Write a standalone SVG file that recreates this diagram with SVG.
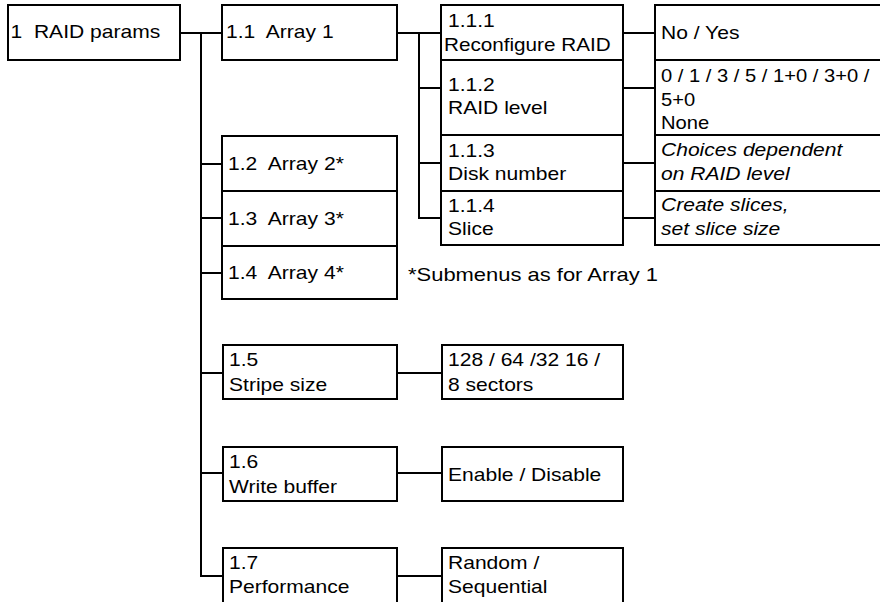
<svg xmlns="http://www.w3.org/2000/svg" width="880" height="602" viewBox="0 0 880 602">
<style>
  rect.box { fill: #ffffff; stroke: #000000; stroke-width: 2; }
  .conn line { stroke: #000000; stroke-width: 2; }
  text { font-family: "Liberation Sans", Arial, sans-serif; font-size: 18px; fill: #000000; white-space: pre; }
  text.it { font-style: italic; }
</style>
<rect x="0" y="0" width="880" height="602" fill="#ffffff"/>

<g id="connectors" class="conn">
  <line x1="180" y1="33" x2="222" y2="33"/>
  <line x1="201" y1="33" x2="201" y2="577"/>
  <line x1="201" y1="164" x2="222" y2="164"/>
  <line x1="201" y1="218" x2="222" y2="218"/>
  <line x1="201" y1="273" x2="222" y2="273"/>
  <line x1="201" y1="373" x2="223" y2="373"/>
  <line x1="201" y1="473" x2="223" y2="473"/>
  <line x1="201" y1="576" x2="223" y2="576"/>
  <line x1="397" y1="33" x2="441" y2="33"/>
  <line x1="419" y1="33" x2="419" y2="219"/>
  <line x1="419" y1="88" x2="441" y2="88"/>
  <line x1="419" y1="163" x2="441" y2="163"/>
  <line x1="419" y1="218" x2="441" y2="218"/>
  <line x1="623" y1="33" x2="655" y2="33"/>
  <line x1="623" y1="88" x2="655" y2="88"/>
  <line x1="623" y1="163" x2="655" y2="163"/>
  <line x1="623" y1="218" x2="655" y2="218"/>
  <line x1="397" y1="373" x2="442" y2="373"/>
  <line x1="397" y1="473" x2="442" y2="473"/>
  <line x1="397" y1="576" x2="442" y2="576"/>
</g>

<g id="n1"><rect class="box" x="8" y="5" width="172" height="55"/><text transform="translate(10.5,0) scale(1.17,1)"><tspan x="0" y="38">1  RAID params</tspan></text></g>
<g id="n1_1"><rect class="box" x="222" y="5" width="175" height="55"/><text transform="translate(226,0) scale(1.17,1)"><tspan x="0" y="38">1.1  Array 1</tspan></text></g>

<g id="n1_1_1"><rect class="box" x="441" y="5" width="182" height="55"/><text transform="translate(448,0) scale(1.17,1)"><tspan x="0" y="27">1.1.1</tspan></text><text transform="translate(444,0) scale(1.15,1)"><tspan x="0" y="51">Reconfigure RAID</tspan></text></g>
<g id="n1_1_2"><rect class="box" x="441" y="60" width="182" height="75"/><text transform="translate(448,0) scale(1.17,1)"><tspan x="0" y="91">1.1.2</tspan><tspan x="0" y="114">RAID level</tspan></text></g>
<g id="n1_1_3"><rect class="box" x="441" y="135" width="182" height="56"/><text transform="translate(448,0) scale(1.17,1)"><tspan x="0" y="157">1.1.3</tspan><tspan x="0" y="180">Disk number</tspan></text></g>
<g id="n1_1_4"><rect class="box" x="441" y="191" width="182" height="54"/><text transform="translate(448,0) scale(1.17,1)"><tspan x="0" y="212">1.1.4</tspan><tspan x="0" y="235">Slice</tspan></text></g>

<g id="v1_1_1"><rect class="box" x="655" y="5" width="232" height="55"/><text transform="translate(661,0) scale(1.17,1)"><tspan x="0" y="39">No / Yes</tspan></text></g>
<g id="v1_1_2"><rect class="box" x="655" y="60" width="232" height="75"/><text transform="translate(661,0) scale(1.12,1)"><tspan x="0" y="82">0 / 1 / 3 / 5 / 1+0 / 3+0 /</tspan><tspan x="0" y="106">5+0</tspan><tspan x="0" y="129">None</tspan></text></g>
<g id="v1_1_3"><rect class="box" x="655" y="135" width="232" height="56"/><text class="it" transform="translate(661,0) scale(1.17,1)"><tspan x="0" y="156">Choices dependent</tspan><tspan x="0" y="180">on RAID level</tspan></text></g>
<g id="v1_1_4"><rect class="box" x="655" y="191" width="232" height="54"/><text class="it" transform="translate(661,0) scale(1.17,1)"><tspan x="0" y="211">Create slices,</tspan><tspan x="0" y="235">set slice size</tspan></text></g>

<g id="n1_2"><rect class="box" x="222" y="136" width="175" height="55"/><text transform="translate(228,0) scale(1.17,1)"><tspan x="0" y="170">1.2  Array 2*</tspan></text></g>
<g id="n1_3"><rect class="box" x="222" y="191" width="175" height="55"/><text transform="translate(228,0) scale(1.17,1)"><tspan x="0" y="225">1.3  Array 3*</tspan></text></g>
<g id="n1_4"><rect class="box" x="222" y="246" width="175" height="53"/><text transform="translate(228,0) scale(1.17,1)"><tspan x="0" y="279">1.4  Array 4*</tspan></text></g>
<g id="note"><text transform="translate(408,0) scale(1.22,1)"><tspan x="0" y="281">*Submenus as for Array 1</tspan></text></g>

<g id="n1_5"><rect class="box" x="223" y="345" width="174" height="54"/><text transform="translate(229,0) scale(1.17,1)"><tspan x="0" y="366">1.5</tspan><tspan x="0" y="391">Stripe size</tspan></text></g>
<g id="v1_5"><rect class="box" x="442" y="345" width="181" height="54"/><text transform="translate(448,0) scale(1.17,1)"><tspan x="0" y="366">128 / 64 /32 16 /</tspan><tspan x="0" y="391">8 sectors</tspan></text></g>
<g id="n1_6"><rect class="box" x="223" y="447" width="174" height="54"/><text transform="translate(229,0) scale(1.17,1)"><tspan x="0" y="468">1.6</tspan><tspan x="0" y="493">Write buffer</tspan></text></g>
<g id="v1_6"><rect class="box" x="442" y="447" width="181" height="54"/><text transform="translate(448,0) scale(1.17,1)"><tspan x="0" y="481">Enable / Disable</tspan></text></g>
<g id="n1_7"><rect class="box" x="223" y="548" width="174" height="62"/><text transform="translate(229,0) scale(1.17,1)"><tspan x="0" y="569">1.7</tspan><tspan x="0" y="593">Performance</tspan></text></g>
<g id="v1_7"><rect class="box" x="442" y="548" width="181" height="62"/><text transform="translate(448,0) scale(1.17,1)"><tspan x="0" y="569">Random /</tspan><tspan x="0" y="593">Sequential</tspan></text></g>
</svg>
